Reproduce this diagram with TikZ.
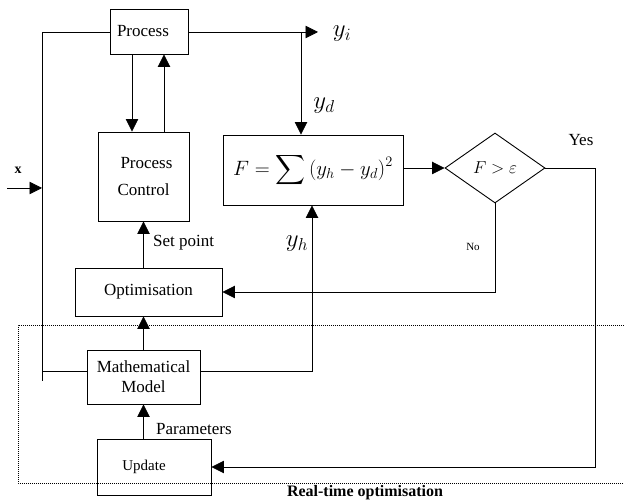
\documentclass[tikz,border=0pt]{standalone}
\usepackage{exscale}
\usepackage{fontspec}
\setmainfont{Liberation Serif}
\usetikzlibrary{shapes.geometric,arrows.meta,calc}
\begin{document}
\begin{tikzpicture}[x=1pt,y=-1pt,
  every node/.style={font=\fontsize{17}{20}\selectfont},
  box/.style={draw,line width=0.9pt,inner sep=0pt,align=center},
  conn/.style={line width=0.8pt},
  arr/.style={conn,-{Triangle[length=12.5pt,width=12.5pt]}},
  lbl/.style={inner sep=0pt}]
\useasboundingbox (0,0) rectangle (624,502);
% boxes
\node[box,minimum width=78pt,minimum height=45pt] (proc) at (149,31.5) {\raisebox{-5pt}{Process}\hspace*{12pt}};
\node[box,minimum width=91pt,minimum height=89pt] (pc) at (143.5,176.5) {\hspace*{6pt}Process\\[7pt]Control};
\node[box,minimum width=147pt,minimum height=48pt] (opt) at (148.5,292) {Optimisation};
\node[box,minimum width=113pt,minimum height=54pt] (mm) at (143.5,377) {Mathematical\\Model};
\node[box,minimum width=114pt,minimum height=56pt,font=\fontsize{15}{18}\selectfont] (upd) at (154,467) {Update\hspace*{20pt}};
\node[box,minimum width=180pt,minimum height=70pt,font=\fontsize{20}{24}\selectfont] (F) at (313,170) {$\displaystyle F=\sum\,(y_h-y_d)^2$};
\node[box,diamond,minimum width=100pt,minimum height=70pt,font=\fontsize{19}{21}\selectfont] (dia) at (495,168) {$F>\varepsilon$};
% coordinates
\coordinate (xin) at (7,188);
\coordinate (xl) at (42,188);
\coordinate (lbot) at (42,381);
\coordinate (ltop) at (42,32);
\coordinate (yi) at (318,32);
\coordinate (ydb) at (301,32);
\coordinate (yhc) at (312,371);
\coordinate (yesc) at (595,177);
% connectors
\draw[arr] (xin) -- (xl);
\draw[conn] (lbot) -- (ltop) -- (ltop -| proc.west);
\draw[conn] ([yshift=6pt]mm.west) -- ([yshift=6pt]mm.west -| lbot);
\draw[arr] (ltop -| proc.east) -- (yi);
\draw[arr] (ydb) -- (ydb |- F.north);
\draw[arr] ([xshift=-17pt]proc.south) -- ([xshift=-17pt]proc.south |- pc.north);
\draw[arr] ([xshift=15pt]proc.south |- pc.north) -- ([xshift=15pt]proc.south);
\draw[arr] (pc.south |- opt.north) -- (pc.south);
\draw[arr] (mm.north) -- (mm.north |- opt.south);
\draw[arr] (upd.north -| mm.south) -- (mm.south);
\draw[arr] ([yshift=6pt]mm.east) -- (yhc) -- (yhc |- F.south);
\draw[arr] (F.east |- dia.west) -- (dia.west);
\draw[arr] (dia.south) -- (dia.south |- opt.east) -- (opt.east);
\draw[arr] (dia.east) -- (dia.east -| yesc) -- (yesc |- upd.east) -- (upd.east);
% dotted frame
\draw[dash pattern=on 0.8pt off 1.2pt,line width=0.6pt] (624,325) -- (18,325) -- (18,483) -- (624,483);
% labels
\node[lbl,font=\bfseries\fontsize{14}{16}\selectfont] (xlab) at (18,170) {x};
\node[lbl,font=\fontsize{24}{26}\selectfont] (yilab) at (342,34) {$y_i$};
\node[lbl,font=\fontsize{24}{26}\selectfont] (ydlab) at (324,106) {$y_d$};
\node[lbl,font=\fontsize{24}{26}\selectfont] (yhlab) at (297,244) {$y_h$};
\node[lbl,anchor=west] (splab) at (153,243) {Set point};
\node[lbl,anchor=west] (parlab) at (156,429) {Parameters};
\node[lbl,font=\fontsize{11}{13}\selectfont] (nolab) at (473,247) {No};
\node[lbl] (yeslab) at (581,140) {Yes};
\node[lbl,font=\bfseries\fontsize{16}{18}\selectfont] (rto) at (365,493) {Real-time optimisation};
\end{tikzpicture}
\end{document}
